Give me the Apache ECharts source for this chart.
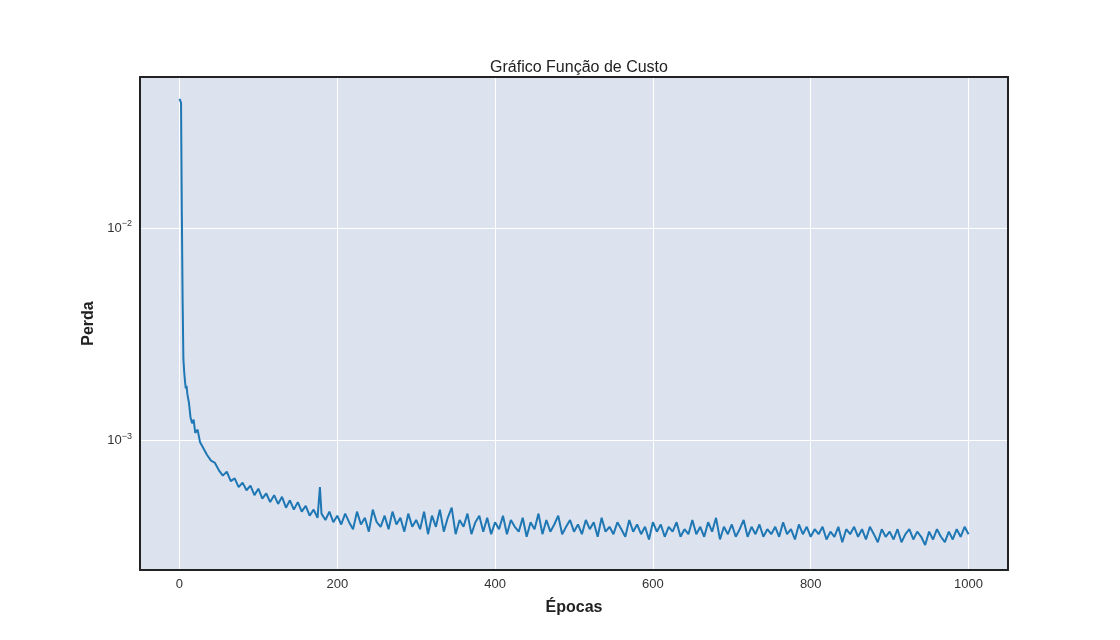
<!DOCTYPE html>
<html lang="pt">
<head>
    <meta charset="UTF-8">
    <title>Gráfico Função de Custo</title>
</head>
<body style="margin:0">
    <div id="main" style="width:1120px;height:640px;"></div>
    <script src="https://cdn.jsdelivr.net/npm/echarts@6/dist/echarts.min.js"></script>
    <script>
      const epochs = [0,1,2,3,4,5,6,7,8,9,10,12,14,16,18,20,23,26,30,35,40,45,50,
        55,60,65,70,75,80,85,90,95,100,105,110,115,120,125,130,135,140,145,150,
        155,160,165,170,175,178,180,185,190,195,200,205,210,215,220,225,230,235,240,245,250,
        255,260,265,270,275,280,285,290,295,300,305,310,315,320,325,330,335,340,345,350,
        355,360,365,370,375,380,385,390,395,400,405,410,415,420,425,430,435,440,445,450,
        455,460,465,470,475,480,485,490,495,500,505,510,515,520,525,530,535,540,545,550,
        555,560,565,570,575,580,585,590,595,600,605,610,615,620,625,630,635,640,645,650,
        655,660,665,670,675,680,685,690,695,700,705,710,715,720,725,730,735,740,745,750,
        755,760,765,770,775,780,785,790,795,800,805,810,815,820,825,830,835,840,845,850,
        855,860,865,870,875,880,885,890,895,900,905,910,915,920,925,930,935,940,945,950,
        955,960,965,970,975,980,985,990,995,1000];
      const loss = [0.0406,0.0404,0.0390,0.0120,0.0046,0.0024,0.0021,0.0019,0.00175,0.0018,0.00165,0.0015,0.00128,0.0012,0.00125,0.00108,0.00112,0.00098,0.00092,0.00085,0.00080,0.00078,0.00072,
        0.00068,0.00071,0.00064,0.00066,0.00060,0.00063,0.00058,0.00061,0.00055,0.00059,0.00053,0.00056,0.00051,0.00055,0.00050,0.00054,0.00048,0.00052,0.00047,0.00051,
        0.00046,0.00049,0.00044,0.00047,0.00043,0.00060,0.00045,0.00042,0.00046,0.00041,0.00044,0.00040,0.00045,0.00041,0.00038,0.00046,0.00040,0.00043,0.00037,0.00047,0.00041,
        0.00039,0.00044,0.00038,0.00046,0.00040,0.00043,0.00037,0.00045,0.00039,0.00042,0.00038,0.00046,0.00036,0.00044,0.00039,0.00047,0.00037,0.00043,0.00048,0.00036,
        0.00042,0.00039,0.00045,0.00036,0.00041,0.00044,0.00037,0.00043,0.00036,0.00041,0.00038,0.00044,0.00036,0.00042,0.00039,0.00037,0.00043,0.00035,0.00041,0.00038,
        0.00045,0.00036,0.00042,0.00037,0.00040,0.00044,0.00036,0.00039,0.00042,0.00037,0.00040,0.00036,0.00042,0.00038,0.00041,0.00035,0.00043,0.00037,0.00039,0.00036,
        0.00041,0.00038,0.00035,0.00042,0.00037,0.00040,0.00036,0.00039,0.00034,0.00041,0.00037,0.00040,0.00035,0.00039,0.00037,0.00041,0.00035,0.00038,0.00036,0.00042,
        0.00036,0.00039,0.00035,0.00041,0.00037,0.00043,0.00034,0.00039,0.00036,0.00040,0.00035,0.00038,0.00042,0.00035,0.00039,0.00036,0.00040,0.00035,0.00038,0.00036,
        0.00039,0.00035,0.00041,0.00036,0.00038,0.00034,0.00040,0.00036,0.00039,0.00035,0.00038,0.00036,0.00039,0.00034,0.00037,0.00035,0.00039,0.00033,0.00038,0.00036,
        0.00039,0.00035,0.00038,0.00034,0.00039,0.00036,0.00033,0.00038,0.00035,0.00037,0.00034,0.00038,0.00033,0.00036,0.00038,0.00034,0.00037,0.00035,0.00032,0.00037,
        0.00034,0.00038,0.00035,0.00033,0.00037,0.00034,0.00038,0.00035,0.00039,0.00036];

      var myChart = echarts.init(document.getElementById('main'));
      var font = 'Liberation Sans';
      var frame = { show: true, onZero: false, lineStyle: { color: '#222', width: 2 } };
      var option = {
        backgroundColor: '#fff',
        title: {
          text: 'Gráfico Função de Custo',
          left: 574, top: 55, textAlign: 'center',
          textStyle: { fontFamily: font, fontSize: 16, fontWeight: 'normal', color: '#222' }
        },
        grid: {
          left: 140, right: 112, top: 77, bottom: 70,
          show: true, backgroundColor: '#dde3ee', borderWidth: 0
        },
        xAxis: [{
          type: 'value', min: -50, max: 1050, splitNumber: 5,
          name: 'Épocas', nameLocation: 'middle', nameGap: 30,
          nameTextStyle: { fontFamily: font, fontSize: 16, fontWeight: 'bold', color: '#222' },
          axisLine: frame, axisTick: { show: false },
          axisLabel: { fontFamily: font, fontSize: 13, color: '#333', showMinLabel: false, showMaxLabel: false,
            formatter: function (v) { return String(v); } },
          splitLine: { lineStyle: { color: '#fff', width: 1 } }
        }, {
          type: 'value', position: 'top', min: -50, max: 1050,
          axisLine: frame, axisTick: { show: false }, axisLabel: { show: false }, splitLine: { show: false }
        }],
        yAxis: [{
          type: 'log', logBase: 10, min: 0.000244, max: 0.0515,
          name: 'Perda', nameLocation: 'middle', nameGap: 38,
          nameTextStyle: { fontFamily: font, fontSize: 16, fontWeight: 'bold', color: '#222' },
          axisLine: frame, axisTick: { show: false },
          axisLabel: {
            showMinLabel: false, showMaxLabel: false,
            formatter: function (v) {
              return '10{sup|−' + Math.abs(Math.round(Math.log10(v))) + '}';
            },
            fontFamily: font, fontSize: 13, color: '#333',
            rich: { sup: { fontFamily: font, fontSize: 9, color: '#333', verticalAlign: 'top', padding: [0, 0, 8, 0] } }
          },
          splitLine: { lineStyle: { color: '#fff', width: 1 } }
        }, {
          type: 'log', logBase: 10, position: 'right', min: 0.000244, max: 0.0515,
          axisLine: frame, axisTick: { show: false }, axisLabel: { show: false }, splitLine: { show: false }
        }],
        series: [{
          type: 'line',
          data: epochs.map(function (e, i) { return [e, loss[i]]; }),
          showSymbol: false,
          lineStyle: { color: '#1f77b4', width: 2 },
          itemStyle: { color: '#1f77b4' }
        }]
      };
      myChart.setOption(option);
    </script>
</body>
</html>
